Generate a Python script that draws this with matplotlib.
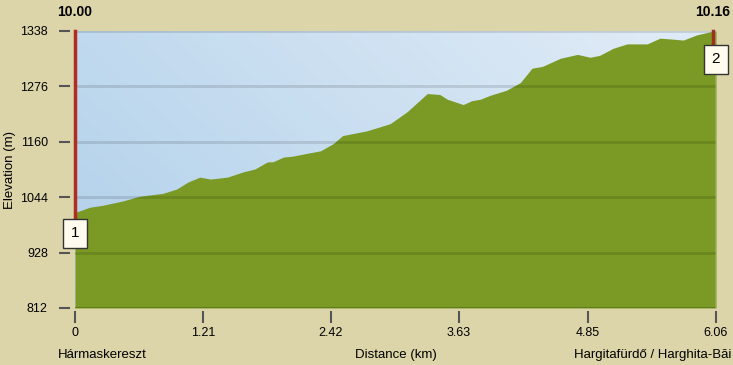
import numpy as np
import matplotlib.pyplot as plt

# profile (km, m on the chart's linear scale)
dist = [0.00, 0.14, 0.26, 0.45, 0.61, 0.83, 0.96, 1.07, 1.18, 1.28, 1.44, 1.59, 1.70,
        1.82, 1.87, 1.97, 2.06, 2.22, 2.32, 2.44, 2.53, 2.76, 2.98, 3.14, 3.33, 3.45,
        3.52, 3.67, 3.75, 3.83, 3.92, 4.08, 4.21, 4.32, 4.42, 4.59, 4.75, 4.87, 4.96,
        5.09, 5.22, 5.41, 5.53, 5.65, 5.75, 5.88, 6.00, 6.06]
elev = [1012, 1023, 1027, 1036, 1046, 1052, 1061, 1076, 1086, 1082, 1086, 1097, 1103,
        1118, 1118, 1128, 1130, 1137, 1141, 1156, 1173, 1183, 1198, 1223, 1261, 1259,
        1249, 1238, 1246, 1249, 1257, 1268, 1284, 1314, 1318, 1335, 1343, 1337, 1341,
        1356, 1365, 1365, 1377, 1375, 1373, 1384, 1390, 1392]

xticks = [0, 1.21, 2.42, 3.63, 4.85, 6.06]
xtick_labels = ['0', '1.21', '2.42', '3.63', '4.85', '6.06']
yticks = [812, 928, 1044, 1160, 1276, 1392]
ytick_labels = ['812', '928', '1044', '1160', '1276', '1338']
start_name = 'Hármaskereszt'
end_name = 'Hargitafürdő / Harghita-Băi'
start_time = '10.00'
end_time = '10.16'

bg = '#DCD5A9'
green = '#7A9A25'
plt.rcParams['font.family'] = ['Liberation Sans', 'DejaVu Sans']

fig = plt.figure(figsize=(7.33, 3.65), dpi=100, facecolor=bg)
ax = fig.add_axes([75 / 733, 57 / 365, 641 / 733, 277 / 365])
ax.set_xlim(0, 6.06)
ax.set_ylim(812, 1392)

# sky gradient
gx, gy = np.meshgrid(np.linspace(0, 1, 200), np.linspace(0, 1, 100))
t = np.clip(0.75 * gx + 0.35 * (1 - gy), 0, 1)
c0 = np.array([176, 208, 234]) / 255
c1 = np.array([222, 234, 246]) / 255
img = c0[None, None, :] * (1 - t[..., None]) + c1[None, None, :] * t[..., None]
ax.imshow(img, extent=[0, 6.06, 812, 1392], aspect='auto', zorder=0, origin='upper')

ax.fill_between(dist, 812, elev, color=green, zorder=2, lw=0)

for y in yticks[1:]:
    ax.axhline(y, color='black', alpha=0.12, lw=2, zorder=3)
ax.axhline(812, color='#5E7A1A', lw=2, zorder=3)
ax.axvline(6.06, color='#F2F0E0', lw=1, zorder=3)

# red markers and boxes
ax.plot([0, 0], [968, 1392], color='#B02D23', lw=2.5, zorder=4, clip_on=False)
ax.plot([6.035, 6.035], [1333, 1392], color='#9E3020', lw=2.5, zorder=4, clip_on=False)
box = dict(boxstyle='square,pad=0.5', fc='#FFFBEE', ec='#333333', lw=1)
ax.text(0, 968, '1', ha='center', va='center', fontsize=11, bbox=box, zorder=5)
ax.text(6.06, 1333, '2', ha='center', va='center', fontsize=11, bbox=box, zorder=5)

for s in ax.spines.values():
    s.set_visible(False)
ax.spines['left'].set_position(('outward', 3.6))
ax.spines['bottom'].set_position(('outward', 2.2))
ax.set_xticks(xticks, xtick_labels)
ax.set_yticks(yticks, ytick_labels)
ax.tick_params(axis='y', length=8, width=1.5, color='#555555', pad=8, labelsize=9)
ax.tick_params(axis='x', length=8.5, width=1.5, color='#555555', pad=3, labelsize=9)

fig.text(10 / 733, 1 - 170 / 365, 'Elevation (m)', rotation=90, ha='center', va='center', fontsize=9.5)
fig.text(75 / 733, 1 - 12 / 365, start_time, ha='center', va='center', fontsize=10, fontweight='bold')
fig.text(713 / 733, 1 - 12 / 365, end_time, ha='center', va='center', fontsize=10, fontweight='bold')
fig.text(58 / 733, 1 - 355 / 365, start_name, ha='left', va='center', fontsize=9.5)
fig.text(396 / 733, 1 - 355 / 365, 'Distance (km)', ha='center', va='center', fontsize=9.5)
fig.text(731 / 733, 1 - 355 / 365, end_name, ha='right', va='center', fontsize=9.5)

fig.savefig('out.png', dpi=100, facecolor=bg)
